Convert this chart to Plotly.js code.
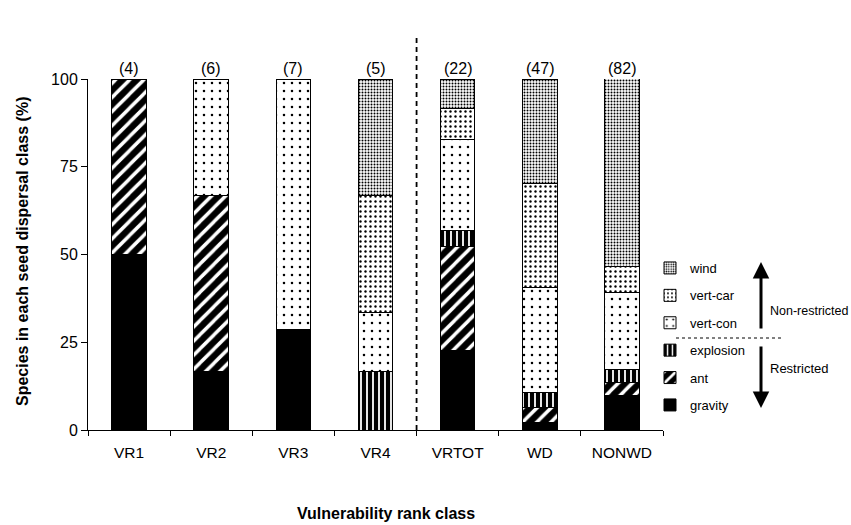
<!DOCTYPE html>
<html><head><meta charset="utf-8">
<script src="https://cdn.plot.ly/plotly-3.0.1.min.js"></script>
<style>body{margin:0;background:#fff}</style>
</head><body><div id="chart" style="width:851px;height:525px"></div>
<script>
const categories = ["VR1","VR2","VR3","VR4","VRTOT","WD","NONWD"];
const counts = ["(4)","(6)","(7)","(5)","(22)","(47)","(82)"];
const gravity   = [50, 16.7, 28.6, 0,    22.7, 2.1,  9.8];
const ant       = [50, 50,   0,    0,    29.5, 4.3,  3.7];
const explosion = [0,  0,    0,    16.7, 4.5,  4.3,  3.7];
const vertCon   = [0,  33.3, 71.4, 16.7, 26.0, 29.8, 22.0];
const vertCar   = [0,  0,    0,    33.3, 9.0,  29.8, 7.3];
const wind      = [0,  0,    0,    33.3, 8.3,  29.7, 53.7];

const FONT = "Liberation Sans, Arial, sans-serif";
function tr(name, y, pattern, color, rank){
  return {type:"bar", name:name, x:categories, y:y, width:0.42, legendgroup:name, legendrank:rank,
    marker:{color:color||"#fff", line:{color:"#000", width:1}, pattern:pattern},
    hoverinfo:"skip"};
}
const data = [
  tr("gravity", gravity, {shape:""}, "#000", 6),
  tr("ant", ant, {shape:"/", bgcolor:"#000", fgcolor:"#fff", fgopacity:1, size:10, solidity:0.35}, "#000", 5),
  tr("explosion", explosion, {shape:"|", bgcolor:"#000", fgcolor:"#fff", fgopacity:1, size:6, solidity:0.3}, "#000", 4),
  tr("vert-con", vertCon, {shape:".", bgcolor:"#fff", fgcolor:"#000", size:8, solidity:0.08}, "#fff", 3),
  tr("vert-car", vertCar, {shape:".", bgcolor:"#fff", fgcolor:"#000", size:5, solidity:0.18}, "#fff", 2),
  tr("wind", wind, {shape:".", bgcolor:"#fff", fgcolor:"#000", size:3, solidity:0.35}, "#fff", 1)
];
const annotations = categories.map((c,i)=>({x:c, y:100, xref:"x", yref:"y", text:counts[i],
  showarrow:false, yanchor:"bottom", yshift:0, font:{family:FONT, size:16, color:"#000"}}));
annotations.push(
  {xref:"paper", yref:"paper", x:(386-88)/575, y:(430-523)/351, yanchor:"bottom", xanchor:"center",
   text:"<b>Vulnerability rank class</b>", showarrow:false, borderpad:0, font:{family:FONT, size:16, color:"#000"}},
  {xref:"paper", yref:"paper", x:(22-88)/575, y:(430-251)/351, yanchor:"middle", xanchor:"center", textangle:-90,
   text:"<b>Species in each seed dispersal class (%)</b>", showarrow:false, font:{family:FONT, size:16, color:"#000"}},
  {xref:"paper", yref:"paper", x:(761-88)/575, y:(430-262)/351, ax:0, ay:68, text:"",
   showarrow:true, arrowhead:2, arrowsize:1.1, arrowwidth:3, arrowcolor:"#000"},
  {xref:"paper", yref:"paper", x:(761-88)/575, y:(430-408)/351, ax:0, ay:-63, text:"",
   showarrow:true, arrowhead:2, arrowsize:1.1, arrowwidth:3, arrowcolor:"#000"},
  {xref:"paper", yref:"paper", x:(769-88)/575, y:(430-311)/351, text:"Non-restricted", xanchor:"left", yanchor:"middle",
   showarrow:false, borderpad:0, font:{family:FONT, size:12.5, color:"#000"}},
  {xref:"paper", yref:"paper", x:(769-88)/575, y:(430-368)/351, text:"Restricted", xanchor:"left", yanchor:"middle",
   showarrow:false, borderpad:0, font:{family:FONT, size:13, color:"#000"}}
);
const layout = {
  width:851, height:525, margin:{l:88, r:188, t:79, b:95},
  paper_bgcolor:"#fff", plot_bgcolor:"#fff", barmode:"stack", bargap:0.58,
  font:{family:FONT, color:"#000"},
  xaxis:{type:"category", range:[-0.5,6.5], showline:true, linecolor:"#000", linewidth:1,
    ticks:"outside", tickson:"boundaries", ticklen:5, tickcolor:"#000", ticklabelstandoff:8,
    tickfont:{family:FONT, size:15.5, color:"#000"}, showgrid:false, zeroline:false, fixedrange:true},
  yaxis:{range:[0,100], tickvals:[0,25,50,75,100], showline:true, linecolor:"#000", linewidth:1,
    ticks:"outside", ticklen:6, tickcolor:"#000", showgrid:false, zeroline:false,
    tickfont:{family:FONT, size:16, color:"#000"}},
  legend:{x:(650-88)/575, xanchor:"left", y:(430-253)/351, yanchor:"top", traceorder:"grouped",
    tracegroupgap:7.5, font:{family:FONT, size:13, color:"#000"}, bgcolor:"rgba(0,0,0,0)"},
  showlegend:true,
  shapes:[
    {type:"line", xref:"paper", yref:"paper", x0:4/7, x1:4/7, y0:0, y1:(430-38)/351,
     line:{color:"#000", width:1.8, dash:"5px,4px"}},
    {type:"line", xref:"paper", yref:"paper", x0:(676-88)/575, x1:(782-88)/575, y0:(430-338)/351, y1:(430-338)/351,
     line:{color:"#000", width:1, dash:"dot"}}
  ],
  annotations:annotations
};
Plotly.newPlot("chart", data, layout, {displayModeBar:false, staticPlot:true});
</script></body></html>
